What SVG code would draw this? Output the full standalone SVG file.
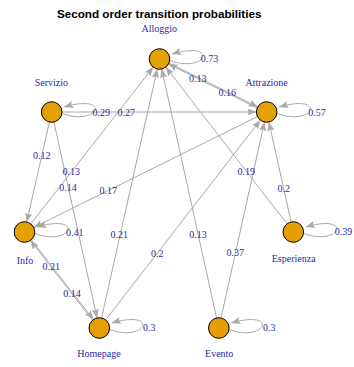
<svg xmlns="http://www.w3.org/2000/svg" width="354" height="367" viewBox="0 0 354 367">
<style>
.bg{fill:#ffffff}
.title{font-family:"Liberation Sans",Arial,sans-serif;font-weight:bold;font-size:11.7px;fill:#000;text-anchor:middle}
.e{fill:none;stroke:#A9A9A9;stroke-width:1}
.el{font-family:"Liberation Serif","Times New Roman",serif;font-size:10px;fill:#2a2aa6;text-anchor:middle}
.n{fill:#E69F00;stroke:#000;stroke-width:1}
.nl{font-family:"Liberation Serif","Times New Roman",serif;font-size:10px;fill:#2a2aa6;text-anchor:middle}
</style>
<defs>
<marker id="arr" markerUnits="userSpaceOnUse" markerWidth="10" markerHeight="8" refX="9" refY="4" orient="auto">
<path d="M0,0.4 L9,4 L0,7.6 L1.6,4 Z" fill="#A9A9A9"/>
</marker>
<path id="loop" d="M10.5,1.5 C48,15 60,-19 12.5,-5" class="e" marker-end="url(#arr)"/>
</defs>
<rect class="bg" x="0" y="0" width="354" height="367"/>
<text class="title" x="159.2" y="17.5">Second order transition probabilities</text>
<g id="connectors">
<use href="#loop" x="159.5" y="59"/>
<use href="#loop" x="51.7" y="112"/>
<use href="#loop" x="266.7" y="112"/>
<use href="#loop" x="24.5" y="232"/>
<use href="#loop" x="293.3" y="232"/>
<use href="#loop" x="99.3" y="328"/>
<use href="#loop" x="218.8" y="328"/>
<line class="e" x1="62" y1="112" x2="256.4" y2="112" marker-end="url(#arr)"/>
<line class="e" x1="49.42" y1="122.05" x2="26.78" y2="221.95" marker-end="url(#arr)"/>
<line class="e" x1="53.92" y1="122.06" x2="97.08" y2="317.94" marker-end="url(#arr)"/>
<line class="e" x1="30.84" y1="223.88" x2="153.16" y2="67.12" marker-end="url(#arr)"/>
<line class="e" x1="257.47" y1="116.57" x2="33.73" y2="227.43" marker-end="url(#arr)"/>
<line class="e" x1="101.55" y1="317.95" x2="157.25" y2="69.05" marker-end="url(#arr)"/>
<line class="e" x1="105.61" y1="319.86" x2="260.39" y2="120.14" marker-end="url(#arr)"/>
<line class="e" x1="31.3" y1="239.75" x2="93.44" y2="319.51" marker-end="url(#arr)"/>
<line class="e" x1="92.5" y1="320.25" x2="30.36" y2="240.49" marker-end="url(#arr)"/>
<line class="e" x1="216.58" y1="317.94" x2="161.72" y2="69.06" marker-end="url(#arr)"/>
<line class="e" x1="221.03" y1="317.94" x2="264.47" y2="122.06" marker-end="url(#arr)"/>
<line class="e" x1="287.0" y1="223.85" x2="165.8" y2="67.15" marker-end="url(#arr)"/>
<line class="e" x1="291.07" y1="221.94" x2="268.93" y2="122.06" marker-end="url(#arr)"/>
<line class="e" x1="168.99" y1="63.03" x2="257.73" y2="106.91" marker-end="url(#arr)"/>
<line class="e" x1="257.21" y1="107.97" x2="168.47" y2="64.09" marker-end="url(#arr)"/>
</g>
<g id="edge-labels">
<text class="el" x="209.5" y="61.7">0.73</text>
<text class="el" x="197.8" y="81.6">0.13</text>
<text class="el" x="227.2" y="95.5">0.16</text>
<text class="el" x="101.2" y="115.8">0.29</text>
<text class="el" x="126.2" y="115.8">0.27</text>
<text class="el" x="317" y="115.8">0.57</text>
<text class="el" x="41.7" y="158.6">0.12</text>
<text class="el" x="71.3" y="174.6">0.13</text>
<text class="el" x="68" y="191.1">0.14</text>
<text class="el" x="108.3" y="193.8">0.17</text>
<text class="el" x="74.7" y="235.5">0.41</text>
<text class="el" x="119.3" y="237.8">0.21</text>
<text class="el" x="51.3" y="269.6">0.21</text>
<text class="el" x="72" y="296.6">0.14</text>
<text class="el" x="157.2" y="257">0.2</text>
<text class="el" x="149.3" y="330.6">0.3</text>
<text class="el" x="246.3" y="174.6">0.19</text>
<text class="el" x="283.7" y="192">0.2</text>
<text class="el" x="198" y="237.8">0.13</text>
<text class="el" x="235.3" y="256.1">0.37</text>
<text class="el" x="269.3" y="330.6">0.3</text>
<text class="el" x="343.5" y="234.5">0.39</text>
</g>
<g id="Alloggio"><circle class="n" cx="159.5" cy="59" r="10.3"/><text class="nl" x="159.2" y="31.7">Alloggio</text></g>
<g id="Servizio"><circle class="n" cx="51.7" cy="112" r="10.3"/><text class="nl" x="51.3" y="85.7">Servizio</text></g>
<g id="Attrazione"><circle class="n" cx="266.7" cy="112" r="10.3"/><text class="nl" x="266.7" y="85.7">Attrazione</text></g>
<g id="Info"><circle class="n" cx="24.5" cy="232" r="10.3"/><text class="nl" x="25" y="264.3">Info</text></g>
<g id="Esperienza"><circle class="n" cx="293.3" cy="232" r="10.3"/><text class="nl" x="293.7" y="262">Esperienza</text></g>
<g id="Homepage"><circle class="n" cx="99.3" cy="328" r="10.3"/><text class="nl" x="99" y="357">Homepage</text></g>
<g id="Evento"><circle class="n" cx="218.8" cy="328" r="10.3"/><text class="nl" x="219.2" y="357">Evento</text></g>
</svg>
